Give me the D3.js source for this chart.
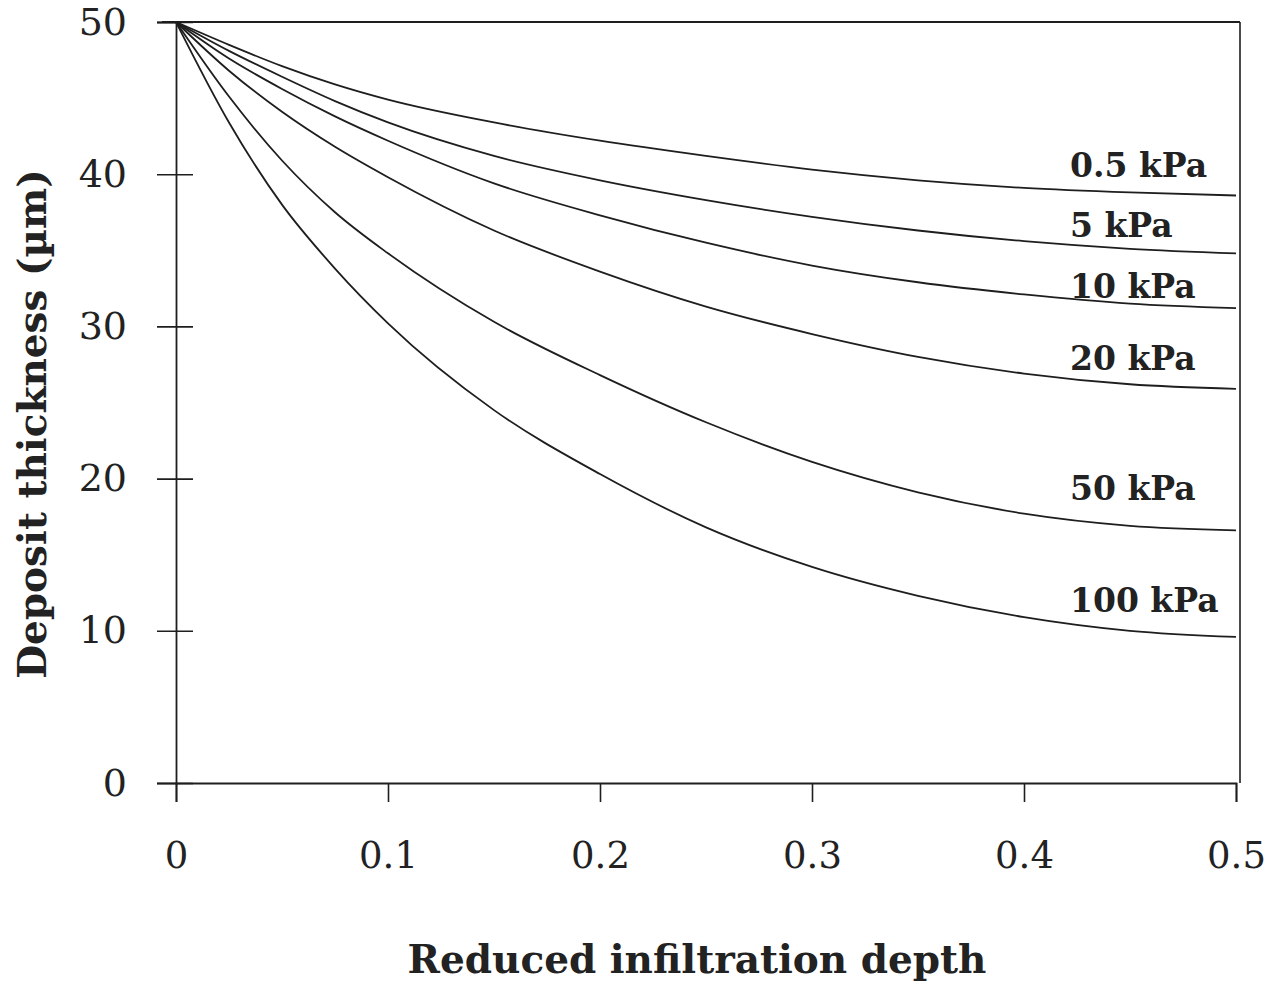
<!DOCTYPE html>
<html>
<head>
<meta charset="utf-8">
<script src="https://cdn.jsdelivr.net/npm/d3@7"></script>
<style>
  body { margin: 0; background: #fff; }
  text { font-family: "DejaVu Serif", "Liberation Serif", serif; fill: #222; }
</style>
</head>
<body>
<div id="dataviz"></div>
<script>
// reduced infiltration depth (x values shared by all curves)
var depth = [0, 0.025, 0.05, 0.075, 0.1, 0.15, 0.2, 0.25, 0.3, 0.35, 0.4, 0.45, 0.5];

// pressure labels, one per curve
var pressures = ["0.5 kPa", "5 kPa", "10 kPa", "20 kPa", "50 kPa", "100 kPa"];

// deposit thickness (um)
var thick05  = [50, 48.5, 47.1, 45.9, 44.9, 43.4, 42.2, 41.2, 40.3, 39.6, 39.1, 38.8, 38.6];
var thick5   = [50, 48.1, 46.4, 44.8, 43.4, 41.2, 39.6, 38.3, 37.2, 36.3, 35.6, 35.1, 34.8];
var thick10  = [50, 47.6, 45.6, 43.8, 42.2, 39.4, 37.3, 35.5, 34.0, 32.9, 32.1, 31.5, 31.2];
var thick20  = [50, 46.8, 44.1, 41.8, 39.8, 36.3, 33.6, 31.3, 29.5, 28.0, 26.9, 26.2, 25.9];
var thick50  = [50, 45.1, 40.9, 37.5, 34.8, 30.3, 26.8, 23.7, 21.1, 19.1, 17.7, 16.9, 16.6];
var thick100 = [50, 43.4, 38.0, 33.8, 30.2, 24.5, 20.3, 16.8, 14.2, 12.3, 10.9, 10.0, 9.6];

var series = [thick05, thick5, thick10, thick20, thick50, thick100];

var xTicks = [0, 0.1, 0.2, 0.3, 0.4, 0.5];
var yTicks = [0, 10, 20, 30, 40, 50];

var totalW = 1279, totalH = 985;
var margin = {top: 22, right: 43, bottom: 202, left: 176};
var width = totalW - margin.left - margin.right;
var height = totalH - margin.top - margin.bottom;

var svg = d3.select("#dataviz")
  .append("svg")
    .attr("width", totalW)
    .attr("height", totalH)
  .append("g")
    .attr("transform", "translate(" + margin.left + "," + margin.top + ")");

var x = d3.scaleLinear().domain([0, 0.5]).range([0, width]);
var y = d3.scaleLinear().domain([0, 50]).range([height, 0]);

var ink = "#1e1e1e";

// frame: top and right edges
svg.append("line")
  .attr("x1", -14).attr("x2", width + 4)
  .attr("y1", y(50)).attr("y2", y(50))
  .attr("stroke", ink).attr("stroke-width", 1.8);
svg.append("line")
  .attr("x1", width + 4).attr("x2", width + 4)
  .attr("y1", y(50)).attr("y2", y(0))
  .attr("stroke", ink).attr("stroke-width", 1.6);

// x axis
var xAxis = svg.append("g")
  .attr("transform", "translate(0," + height + ")")
  .call(d3.axisBottom(x).tickValues(xTicks).tickSize(19).tickPadding(40)
        .tickFormat(function(d) { return d === 0 ? "0" : d3.format(".1f")(d); }));
xAxis.select(".domain").attr("stroke", ink).attr("stroke-width", 1.8);
xAxis.selectAll(".tick line").attr("stroke", ink).attr("stroke-width", 1.6);
xAxis.selectAll("text")
  .style("font-size", "37px")
  .style("font-family", "DejaVu Serif")
  .attr("fill", ink);

// y axis (ticks cross the axis line)
var yAxis = svg.append("g")
  .call(d3.axisLeft(y).tickValues(yTicks).tickSize(19).tickPadding(30));
yAxis.select(".domain").attr("stroke", ink).attr("stroke-width", 1.8);
yAxis.selectAll(".tick line")
  .attr("x1", 17)
  .attr("stroke", ink).attr("stroke-width", 1.6);
yAxis.selectAll("text")
  .style("font-size", "38px")
  .style("font-family", "DejaVu Serif")
  .attr("fill", ink);

// curves
var line = d3.line()
  .x(function(d, i) { return x(depth[i]); })
  .y(function(d) { return y(d); })
  .curve(d3.curveMonotoneX);

svg.selectAll(".curve")
  .data(series)
  .enter()
  .append("path")
    .attr("class", "curve")
    .attr("d", line)
    .attr("fill", "none")
    .attr("stroke", ink)
    .attr("stroke-width", 1.8);

// curve labels, sitting above each curve's end
var labelDy = [-19, -16, -10, -19, -30, -25];
svg.selectAll(".plabel")
  .data(pressures)
  .enter()
  .append("text")
    .attr("class", "plabel")
    .attr("x", width - 166)
    .attr("y", function(d, i) { return y(series[i][series[i].length - 1]) + labelDy[i]; })
    .text(function(d) { return d; })
    .style("font-size", "33px")
    .style("font-weight", "bold");

// x axis title
svg.append("text")
  .attr("x", 697 - margin.left)
  .attr("y", 973 - margin.top)
  .text("Reduced infiltration depth")
  .style("text-anchor", "middle")
  .style("font-size", "39px")
  .style("font-weight", "bold");

// y axis title
svg.append("text")
  .attr("transform", "translate(" + (46 - margin.left) + "," + (424 - margin.top) + ") rotate(-90)")
  .text("Deposit thickness (\u00b5m)")
  .style("text-anchor", "middle")
  .style("font-size", "39px")
  .style("font-weight", "bold");
</script>
</body>
</html>
